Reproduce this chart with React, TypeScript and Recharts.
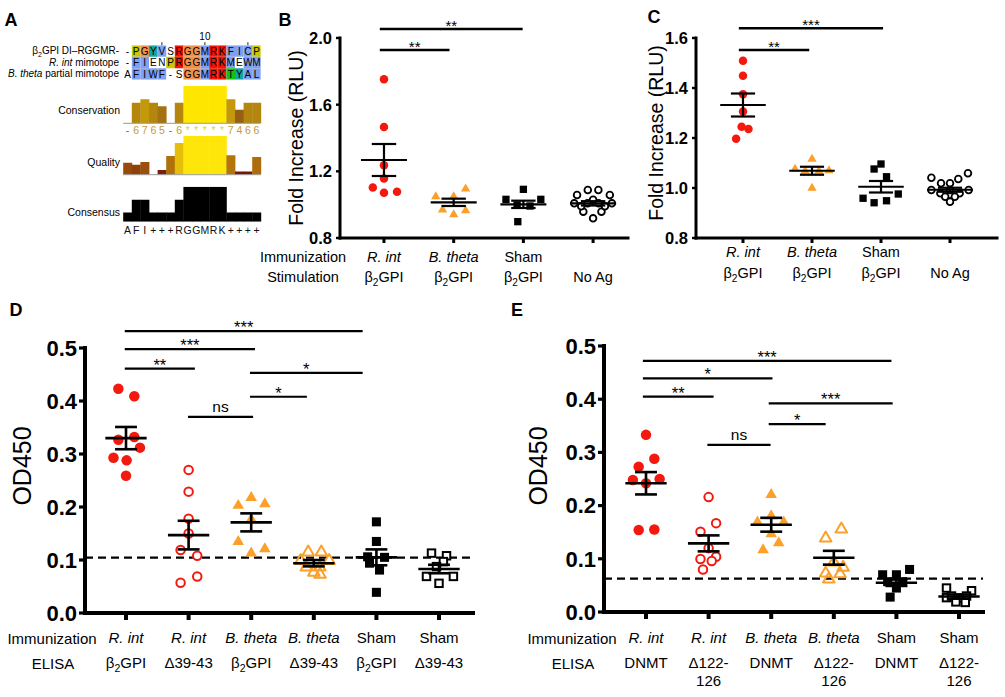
import React from 'react'
import {
  ScatterChart,
  Scatter,
  BarChart,
  Bar,
  Cell,
  XAxis,
  YAxis,
  ReferenceLine,
  ReferenceDot,
} from 'recharts'

// ─────────────────────────────────────────
// Mimotope figure, panels A–E
//   A: alignment + Jalview annotation tracks
//   B/C: luciferase fold increase, dot plots w/ mean ± SEM
//   D/E: ELISA OD450, dot plots w/ mean ± SEM and cut-off
// ─────────────────────────────────────────

const FONT = '"Liberation Sans", Arial, Helvetica, sans-serif'
const RED = '#f3190f'
const ORANGE = '#fca02a'

type Pt = [number, number] // [jitter within group, value]
type Sig = { x1: number; x2: number; y: number; label: string }
type MarkerKind = 'circle' | 'ocircle' | 'tri' | 'otri' | 'square' | 'osquare'

// ── Panel A data ──
const alnLabels = ['β2GPI DI–RGGMR-', 'R. int mimotope', 'B. theta partial mimotope']
const alnRows = ['-PGYVSRGGMRKFICP', '-FIENPRGGMRKMEWM', 'AFIWF-SGGMRKTYAL']
const alnColours = ['.yocb.roobrrbbby', '.bb..yroobrrb.bb', '.bbbb..oobrrgcbb']
const alnRuler = [4, 9, 14]
const conservation = [0, 6, 7, 6, 5, 0, 6, 11, 11, 11, 11, 11, 7, 4, 6, 6]
const conservationSym = ['-', '6', '7', '6', '5', '-', '6', '*', '*', '*', '*', '*', '7', '4', '6', '6']
const quality = [31, 26, 33, 0, 12, 48, 82, 100, 100, 100, 100, 100, 50, 8, 8, 46]
const consensus = [26, 63, 63, 26, 26, 26, 63, 100, 100, 100, 100, 100, 26, 26, 26, 26]
const consensusSeq = ['A', 'F', 'I', '+', '+', '+', 'R', 'G', 'G', 'M', 'R', 'K', '+', '+', '+', '+']

// ── Panel B data ──
const bTicks = [0.8, 1.2, 1.6, 2.0]
const bImmun = ['R. int', 'B. theta', 'Sham', '']
const bStim = ['β2GPI', 'β2GPI', 'β2GPI', 'No Ag']
const bRint: Pt[] = [[0, 1.753], [0, 1.466], [0, 1.237], [0, 1.157], [-0.16, 1.103], [0, 1.071], [0.187, 1.077]]
const bBtheta: Pt[] = [[0.171, 1.098], [-0.257, 1.052], [0, 1.052], [-0.16, 0.972], [0, 0.944], [0.171, 0.968]]
const bSham: Pt[] = [[0, 1.092], [-0.25, 1.032], [0.25, 1.032], [-0.09, 0.998], [0.095, 0.992], [-0.08, 0.898]]
const bNoAg: Pt[] = [
  [-0.076, 1.088], [0.076, 1.088], [-0.23, 1.058], [0.24, 1.058], [-0.27, 1.008], [0.27, 1.008], [-0.14, 0.958],
  [0.12, 0.958], [0, 0.918], [-0.08, 1.008], [0.08, 1.008], [-0.17, 0.99], [0.17, 0.99], [0, 1.03],
]
const bMean = [1.268, 1.014, 1.002, 1.008]
const bSem = [0.096, 0.022, 0.022, 0.013]
const bSig: Sig[] = [
  { x1: -0.06, x2: 0.94, y: 1.928, label: '**' },
  { x1: -0.06, x2: 1.99, y: 2.054, label: '**' },
]

// ── Panel C data ──
const cTicks = [0.8, 1.0, 1.2, 1.4, 1.6]
const cImmun = ['R. int', 'B. theta', 'Sham', '']
const cStim = ['β2GPI', 'β2GPI', 'β2GPI', 'No Ag']
const cRint: Pt[] = [[0, 1.509], [0, 1.449], [0, 1.375], [0, 1.306], [-0.02, 1.245], [0.08, 1.236], [-0.1, 1.197]]
const cBtheta: Pt[] = [[0, 1.118], [-0.246, 1.078], [0.246, 1.072], [-0.1, 1.07], [0.1, 1.07], [0, 1.002]]
const cSham: Pt[] = [[0, 1.096], [-0.1, 1.076], [0.08, 1.045], [-0.26, 0.959], [0.25, 0.976], [-0.1, 0.941], [0.08, 0.949]]
const cNoAg: Pt[] = [
  [-0.27, 1.041], [0.26, 1.059], [0.12, 1.036], [-0.13, 1.019], [0, 1.019], [-0.27, 0.992], [0.27, 0.992],
  [-0.14, 0.979], [0.14, 0.979], [0, 0.972], [-0.07, 0.965], [0.07, 0.965], [0, 0.945], [0, 0.992],
]
const cMean = [1.332, 1.069, 1.005, 0.993]
const cSem = [0.046, 0.016, 0.023, 0.008]
const cSig: Sig[] = [
  { x1: -0.06, x2: 0.96, y: 1.552, label: '**' },
  { x1: -0.06, x2: 2.03, y: 1.639, label: '***' },
]

// ── Panel D data ──
const odTicks = [0, 0.1, 0.2, 0.3, 0.4, 0.5]
const dImmun = ['R. int', 'R. int', 'B. theta', 'B. theta', 'Sham', 'Sham']
const dElisa = ['β2GPI', 'Δ39-43', 'β2GPI', 'Δ39-43', 'β2GPI', 'Δ39-43']
const dRintB: Pt[] = [[-0.122, 0.423], [0.133, 0.409], [-0.122, 0.327], [0.133, 0.332], [0.223, 0.312], [-0.2, 0.293], [0.01, 0.288], [0, 0.259]]
const dRintD: Pt[] = [[0, 0.27], [0, 0.229], [0, 0.178], [0, 0.15], [-0.128, 0.119], [0.138, 0.108], [0.138, 0.069], [-0.128, 0.057]]
const dBthB: Pt[] = [[0, 0.219], [-0.207, 0.204], [0.218, 0.207], [0, 0.178], [-0.207, 0.136], [0.218, 0.122], [0, 0.114]]
const dBthD: Pt[] = [[-0.09, 0.116], [0.12, 0.116], [-0.21, 0.1], [0.245, 0.1], [-0.12, 0.0875], [0.095, 0.0875], [0, 0.078], [0.1, 0.074]]
const dShamB: Pt[] = [[0, 0.172], [0, 0.135], [-0.14, 0.106], [0.13, 0.105], [-0.11, 0.094], [0.05, 0.081], [0, 0.039]]
const dShamD: Pt[] = [[-0.12, 0.113], [0.12, 0.108], [0.07, 0.097], [-0.04, 0.0875], [-0.2, 0.069], [0.23, 0.069], [0, 0.056]]
const dMean = [0.33, 0.147, 0.171, 0.094, 0.105, 0.083]
const dSem = [0.021, 0.027, 0.017, 0.006, 0.015, 0.008]
const dCut = 0.1045
const dSig: Sig[] = [
  { x1: -0.02, x2: 3.78, y: 0.532, label: '***' },
  { x1: -0.02, x2: 2.06, y: 0.498, label: '***' },
  { x1: -0.02, x2: 1.1, y: 0.461, label: '**' },
  { x1: 1.98, x2: 3.78, y: 0.453, label: '*' },
  { x1: 1.98, x2: 2.89, y: 0.408, label: '*' },
  { x1: 0.99, x2: 2.03, y: 0.37, label: 'ns' },
]

// ── Panel E data ──
const eImmun = ['R. int', 'R. int', 'B. theta', 'B. theta', 'Sham', 'Sham']
const eElisa = ['DNMT', 'Δ122-', 'DNMT', 'Δ122-', 'DNMT', 'Δ122-']
const eElisa2 = ['', '126', '', '126', '', '126']
const eRintD: Pt[] = [[0, 0.333], [-0.117, 0.273], [0.133, 0.288], [-0.21, 0.248], [0.218, 0.25], [0, 0.242], [-0.117, 0.154], [0.133, 0.155]]
const eRintX: Pt[] = [[0, 0.216], [0.12, 0.167], [-0.13, 0.151], [0, 0.12], [-0.13, 0.0996], [0.12, 0.104], [0.05, 0.096], [-0.09, 0.08]]
const eBthD: Pt[] = [[0, 0.222], [0, 0.182], [-0.22, 0.17], [0.2, 0.17], [0, 0.148], [0.12, 0.131], [-0.13, 0.118]]
const eBthX: Pt[] = [[0.12, 0.157], [-0.13, 0.14], [0, 0.095], [0.15, 0.085], [-0.13, 0.074], [0.1, 0.073], [-0.08, 0.063]]
const eShamD: Pt[] = [[0.21, 0.08], [-0.22, 0.07], [0, 0.07], [-0.14, 0.057], [0.1, 0.057], [0, 0.045], [-0.1, 0.028]]
const eShamX: Pt[] = [[-0.2, 0.045], [0.2, 0.04], [-0.2, 0.027], [-0.12, 0.03], [0.12, 0.03], [0, 0.026], [-0.05, 0.019], [0.1, 0.018]]
const eMean = [0.242, 0.129, 0.164, 0.102, 0.055, 0.029]
const eSem = [0.021, 0.015, 0.013, 0.013, 0.006, 0.004]
const eCut = 0.0627
const eSig: Sig[] = [
  { x1: -0.05, x2: 3.92, y: 0.472, label: '***' },
  { x1: -0.05, x2: 2.02, y: 0.439, label: '*' },
  { x1: -0.05, x2: 1.08, y: 0.405, label: '**' },
  { x1: 1.96, x2: 3.94, y: 0.392, label: '***' },
  { x1: 1.96, x2: 2.87, y: 0.353, label: '*' },
  { x1: 0.98, x2: 1.99, y: 0.314, label: 'ns' },
]

// ─────────────────────────────────────────
// helpers
// ─────────────────────────────────────────

// β2 subscript + italic species names inside an SVG <text>
function rich(text: string, fs: number) {
  if (text.startsWith('β2')) {
    return [
      <tspan key="a">β</tspan>,
      <tspan key="b" dy={fs * 0.28} fontSize={fs * 0.7}>2</tspan>,
      <tspan key="c" dy={-fs * 0.28}>{text.slice(2)}</tspan>,
    ]
  }
  const m = text.match(/^(R\. int|B\. theta)(.*)$/)
  if (m) return [<tspan key="a" fontStyle="italic">{m[1]}</tspan>, <tspan key="b">{m[2]}</tspan>]
  return text
}

function Txt({ x, y, size, children, anchor = 'middle', bold = false, rotate = false }: any) {
  const tx = anchor === 'middle' ? '-50%' : anchor === 'end' ? '-100%' : '0'
  return (
    <div
      style={{
        position: 'absolute',
        left: x,
        top: y,
        transform: `translate(${tx}, -50%)${rotate ? ' rotate(-90deg)' : ''}`,
        fontSize: size,
        fontWeight: bold ? 700 : 400,
        fontFamily: FONT,
        lineHeight: 1,
        whiteSpace: 'nowrap',
        color: '#000',
      }}
    >
      {children}
    </div>
  )
}

function marker(kind: MarkerKind, color: string, s: number) {
  const sw = Math.max(1.8, s * 0.19)
  return (p: any) => {
    const { cx, cy } = p
    if (cx == null || cy == null) return <g />
    const h = s * 0.95
    const tri = `${cx},${cy - h * 0.6} ${cx - s * 0.55},${cy + h * 0.4} ${cx + s * 0.55},${cy + h * 0.4}`
    switch (kind) {
      case 'circle':
        return <circle cx={cx} cy={cy} r={s / 2} fill={color} />
      case 'ocircle':
        return <circle cx={cx} cy={cy} r={s / 2 - sw / 2} fill="#fff" stroke={color} strokeWidth={sw} />
      case 'tri':
        return <polygon points={tri} fill={color} />
      case 'otri':
        return <polygon points={tri} fill="none" stroke={color} strokeWidth={sw} strokeLinejoin="round" />
      case 'square':
        return <rect x={cx - s * 0.43} y={cy - s * 0.43} width={s * 0.86} height={s * 0.86} fill={color} />
      default:
        return (
          <rect x={cx - s * 0.45 + sw / 2} y={cy - s * 0.45 + sw / 2} width={s * 0.9 - sw} height={s * 0.9 - sw}
            fill="#fff" stroke={color} strokeWidth={sw} />
        )
    }
  }
}

// ─────────────────────────────────────────
// Panel A
// ─────────────────────────────────────────
const A_L = 123.2
const A_R = 260.8
const A_W = A_R + 6
const COL_W = (A_R - A_L) / 16
const ROW_H = 11.5
const RES: Record<string, string> = {
  b: '#80a0f0', r: '#f01505', o: '#f09048', y: '#c8c800', c: '#15a4a4', g: '#15c015',
}

function consColour(v: number) {
  const t = Math.max(0, (v - 4) / 7)
  return `rgb(${Math.round(150 + 105 * t)},${Math.round(95 + 135 * t)},${Math.round(20 - 20 * t)})`
}
function qualColour(v: number) {
  const t = v / 100
  return `rgb(${Math.round(105 + 150 * t)},${Math.round(Math.max(0, 5 + 225 * t))},10)`
}
function symColour(s: string) {
  if (s === '-') return '#a0522d'
  if (s === '*') return '#f2d400'
  return '#c49a3c'
}

function PanelA() {
  const cells = alnRows.flatMap((row, r) =>
    row.split('').map((ch, c) => ({ x: c, y: r, ch, code: alnColours[r][c] })),
  )
  const consData = conservation.map((v, i) => ({ col: i, v }))
  const qualData = quality.map((v, i) => ({ col: i, v }))
  const consensusData = consensus.map((v, i) => ({ col: i, v }))

  const cellShape = (p: any) => {
    const fill = RES[p.payload.code]
    return (
      <g>
        {fill && <rect x={p.cx - COL_W / 2} y={p.cy - ROW_H / 2} width={COL_W} height={ROW_H} fill={fill} />}
        <text x={p.cx} y={p.cy + 3.6} textAnchor="middle" fontSize={10} fontFamily={FONT} fill="#000">
          {p.payload.ch}
        </text>
      </g>
    )
  }
  const rulerTick = (p: any) => {
    const n = p.payload.value + 1
    return n % 10 === 0 ? (
      <text x={p.x} y={p.y - 2} textAnchor="middle" fontSize={10} fontFamily={FONT} fill="#000">{n}</text>
    ) : <g />
  }
  const rowLabelTick = (p: any) => (
    <text x={119} y={p.y + 3.5} textAnchor="end" fontSize={10} fontFamily={FONT} fill="#000" style={{ whiteSpace: 'pre' }}>
      {rich(alnLabels[p.payload.value], 10)}
    </text>
  )
  const symTick = (p: any) => {
    const s = conservationSym[p.payload.value]
    return (
      <text x={p.x} y={p.y + 10.5} textAnchor="middle" fontSize={10.5} fontFamily={FONT} fill={symColour(s)}>{s}</text>
    )
  }
  const seqTick = (p: any) => (
    <text x={p.x} y={p.y + 12} textAnchor="middle" fontSize={10.5} fontFamily={FONT} fill="#111">
      {consensusSeq[p.payload.value]}
    </text>
  )

  return (
    <>
      <div style={{ position: 'absolute', left: 0, top: 0 }}>
        <ScatterChart width={A_W} height={84} margin={{ top: 0, right: A_W - A_R, bottom: 84 - 45.25 - 3 * ROW_H, left: 0 }}>
          <XAxis type="number" dataKey="x" orientation="top" domain={[-0.5, 15.5]} allowDataOverflow ticks={alnRuler}
            interval={0} height={45.25} axisLine={false} tickLine={{ stroke: '#222' }} tickSize={3} tickMargin={0} tick={rulerTick} />
          <YAxis type="number" dataKey="y" domain={[-0.5, 2.5]} reversed allowDataOverflow ticks={[0, 1, 2]} interval={0}
            width={A_L} axisLine={false} tickLine={false} tick={rowLabelTick} />
          <Scatter data={cells} shape={cellShape} isAnimationActive={false} />
        </ScatterChart>
      </div>

      {/* Conservation */}
      <div style={{ position: 'absolute', left: 0, top: 80 }}>
        <BarChart width={A_W} height={56} data={consData} barCategoryGap={0} barGap={0}
          margin={{ top: 5.7, right: A_W - A_R, bottom: 0, left: A_L }}>
          <XAxis dataKey="col" height={56 - 5.7 - 37.6} interval={0} tickSize={0} tickMargin={0}
            axisLine={{ stroke: '#9a9a9a' }} tickLine={false} tick={symTick} />
          <YAxis hide domain={[0, 11]} allowDataOverflow />
          <Bar dataKey="v" isAnimationActive={false}>
            {consData.map((d, i) => <Cell key={i} fill={consColour(d.v)} />)}
          </Bar>
        </BarChart>
      </div>

      {/* Quality */}
      <div style={{ position: 'absolute', left: 0, top: 130 }}>
        <BarChart width={A_W} height={48} data={qualData} barCategoryGap={0} barGap={0}
          margin={{ top: 6, right: A_W - A_R, bottom: 0, left: A_L }}>
          <XAxis dataKey="col" height={48 - 6 - 38.7} interval={0} axisLine={{ stroke: '#9a9a9a' }} tickLine={false} tick={false} />
          <YAxis hide domain={[0, 100]} allowDataOverflow />
          <Bar dataKey="v" isAnimationActive={false}>
            {qualData.map((d, i) => <Cell key={i} fill={qualColour(d.v)} />)}
          </Bar>
        </BarChart>
      </div>

      {/* Consensus */}
      <div style={{ position: 'absolute', left: 0, top: 180 }}>
        <BarChart width={A_W} height={58} data={consensusData} barCategoryGap={0} barGap={0}
          margin={{ top: 6.7, right: A_W - A_R, bottom: 0, left: A_L }}>
          <XAxis dataKey="col" height={58 - 6.7 - 35} interval={0} tickSize={0} tickMargin={0}
            axisLine={false} tickLine={false} tick={seqTick} />
          <YAxis hide domain={[0, 100]} allowDataOverflow />
          <Bar dataKey="v" fill="#000" isAnimationActive={false} />
        </BarChart>
      </div>

      <Txt x={120} y={110} size={10.5} anchor="end">Conservation</Txt>
      <Txt x={120} y={161.7} size={10.5} anchor="end">Quality</Txt>
      <Txt x={120} y={211.7} size={10.5} anchor="end">Consensus</Txt>
    </>
  )
}

// ─────────────────────────────────────────
// Dot plot panels (B–E)
// ─────────────────────────────────────────
interface Group { pts: Pt[]; kind: MarkerKind; color: string }
interface PanelProps {
  box: [number, number, number, number]
  plot: [number, number, number, number]
  xDomain: [number, number]
  yDomain: [number, number]
  yTicks: number[]
  groups: Group[]
  means: number[]
  sems: number[]
  sigs: Sig[]
  cut?: number
  rows: string[][]
  rowDy: number[]
  catFont: number
  tickFont: number
  axisW: number
  tickLen: number
  sigFont: number
  starDy: number
  mSize: number
  lineW: number
  sigW: number
}

function DotPanel(props: PanelProps) {
  const { box, plot, groups, means, sems, sigs, rows, rowDy, catFont, tickFont, axisW, tickLen } = props
  const [L, T, W, H] = box
  const [pl, pt, pr, pb] = plot
  const base = pb - T

  const catTick = (p: any) => {
    const i = Math.round(p.payload.value)
    return (
      <g>
        {rows.map((r, k) =>
          r[i] ? (
            <text key={k} x={p.x} y={base + rowDy[k]} textAnchor="middle" fontSize={catFont} fontFamily={FONT}
              fill="#000" style={{ whiteSpace: 'pre' }}>
              {rich(r[i], catFont)}
            </text>
          ) : null,
        )}
      </g>
    )
  }

  const axisStyle = { stroke: '#000', strokeWidth: axisW, strokeLinecap: 'square' as const }

  const meanLines = means.flatMap((m, i) => {
    const s = sems[i]
    const segs: [number, number, number, number][] = [
      [i - 0.33, m, i + 0.33, m],
      [i, m - s, i, m + s],
      [i - 0.175, m + s, i + 0.175, m + s],
      [i - 0.175, m - s, i + 0.175, m - s],
    ]
    return segs.map(([x1, y1, x2, y2], k) => (
      <ReferenceLine key={`m${i}-${k}`} segment={[{ x: x1, y: y1 }, { x: x2, y: y2 }]}
        stroke="#000" strokeWidth={props.lineW} ifOverflow="visible" zIndex={700} />
    ))
  })

  const sigMarks = sigs.flatMap((s, k) => [
    <ReferenceLine key={`s${k}`} segment={[{ x: s.x1, y: s.y }, { x: s.x2, y: s.y }]}
      stroke="#000" strokeWidth={props.sigW} ifOverflow="visible" zIndex={700} />,
    <ReferenceDot key={`t${k}`} x={(s.x1 + s.x2) / 2} y={s.y} r={0} ifOverflow="visible" zIndex={700}
      shape={(p: any) => (
        <text x={p.cx} y={p.cy + (s.label === 'ns' ? -4.5 : props.starDy)} textAnchor="middle"
          fontSize={s.label === 'ns' ? props.sigFont - 1 : props.sigFont} fontFamily={FONT} fill="#000">
          {s.label}
        </text>
      )} />,
  ])

  return (
    <div style={{ position: 'absolute', left: L, top: T }}>
      <ScatterChart width={W} height={H} margin={{ top: pt - T, right: L + W - pr, bottom: 0, left: 0 }}>
        <XAxis type="number" dataKey="x" domain={props.xDomain} allowDataOverflow ticks={groups.map((_, i) => i)}
          interval={0} height={T + H - pb} tick={catTick} tickSize={tickLen + 1} tickMargin={0}
          axisLine={axisStyle} tickLine={{ stroke: '#000', strokeWidth: axisW }} />
        <YAxis type="number" dataKey="y" domain={props.yDomain} allowDataOverflow ticks={props.yTicks} interval={0}
          width={pl - L} tickFormatter={(v: number) => v.toFixed(1)} tickSize={tickLen} tickMargin={tickLen > 5 ? 2 : 4}
          tick={{ fontSize: tickFont, fontWeight: 700, fill: '#000', fontFamily: FONT }}
          axisLine={axisStyle} tickLine={{ stroke: '#000', strokeWidth: axisW * 0.8 }} />
        {props.cut != null && (
          <ReferenceLine y={props.cut} stroke="#000" strokeWidth={2.4} strokeDasharray="8 5" ifOverflow="visible" />
        )}
        {groups.map((g, i) => (
          <Scatter key={`g${i}`} data={g.pts.map(([dx, v]) => ({ x: i + dx, y: v }))}
            shape={marker(g.kind, g.color, props.mSize)} isAnimationActive={false} />
        ))}
        {meanLines}
        {sigMarks}
      </ScatterChart>
    </div>
  )
}

const bcStyle = { catFont: 14.5, tickFont: 16.5, axisW: 3, tickLen: 4, sigFont: 15, starDy: 1.5, mSize: 8.5, lineW: 2.2, sigW: 2.6 }
const deStyle = { catFont: 15, tickFont: 22, axisW: 4, tickLen: 6, sigFont: 16.5, starDy: 2, mSize: 10.5, lineW: 2.6, sigW: 2.2 }

export default function App() {
  return (
    <div style={{ position: 'absolute', left: 0, top: 0, width: 1005, height: 697, background: '#fff', overflow: 'hidden' }}>
      <PanelA />

      <DotPanel
        {...bcStyle}
        box={[230, 0, 400, 300]}
        plot={[340, 38, 628, 238]}
        xDomain={[-0.631, 3.501]}
        yDomain={[0.8, 2.0]}
        yTicks={bTicks}
        groups={[
          { pts: bRint, kind: 'circle', color: RED },
          { pts: bBtheta, kind: 'tri', color: ORANGE },
          { pts: bSham, kind: 'square', color: '#000' },
          { pts: bNoAg, kind: 'ocircle', color: '#000' },
        ]}
        means={bMean}
        sems={bSem}
        sigs={bSig}
        rows={[bImmun, bStim]}
        rowDy={[24, 44]}
      />

      <DotPanel
        {...bcStyle}
        box={[620, 0, 385, 300]}
        plot={[696, 38, 997, 238]}
        xDomain={[-0.681, 3.681]}
        yDomain={[0.8, 1.6]}
        yTicks={cTicks}
        groups={[
          { pts: cRint, kind: 'circle', color: RED },
          { pts: cBtheta, kind: 'tri', color: ORANGE },
          { pts: cSham, kind: 'square', color: '#000' },
          { pts: cNoAg, kind: 'ocircle', color: '#000' },
        ]}
        means={cMean}
        sems={cSem}
        sigs={cSig}
        rows={[cImmun, cStim]}
        rowDy={[19, 40]}
      />

      <DotPanel
        {...deStyle}
        box={[0, 300, 490, 397]}
        plot={[85, 348, 473, 613]}
        xDomain={[-0.655, 5.543]}
        yDomain={[0, 0.5]}
        yTicks={odTicks}
        groups={[
          { pts: dRintB, kind: 'circle', color: RED },
          { pts: dRintD, kind: 'ocircle', color: RED },
          { pts: dBthB, kind: 'tri', color: ORANGE },
          { pts: dBthD, kind: 'otri', color: ORANGE },
          { pts: dShamB, kind: 'square', color: '#000' },
          { pts: dShamD, kind: 'osquare', color: '#000' },
        ]}
        means={dMean}
        sems={dSem}
        sigs={dSig}
        cut={dCut}
        rows={[dImmun, dElisa]}
        rowDy={[30, 55]}
      />

      <DotPanel
        {...deStyle}
        box={[500, 300, 505, 397]}
        plot={[604, 346, 983, 612]}
        xDomain={[-0.671, 5.383]}
        yDomain={[0, 0.5]}
        yTicks={odTicks}
        groups={[
          { pts: eRintD, kind: 'circle', color: RED },
          { pts: eRintX, kind: 'ocircle', color: RED },
          { pts: eBthD, kind: 'tri', color: ORANGE },
          { pts: eBthX, kind: 'otri', color: ORANGE },
          { pts: eShamD, kind: 'square', color: '#000' },
          { pts: eShamX, kind: 'osquare', color: '#000' },
        ]}
        means={eMean}
        sems={eSem}
        sigs={eSig}
        cut={eCut}
        rows={[eImmun, eElisa, eElisa2]}
        rowDy={[31, 56, 74]}
      />

      {/* axis titles and row headers */}
      <Txt x={297} y={138} size={19.5} rotate>Fold Increase (RLU)</Txt>
      <Txt x={657} y={133} size={19.5} rotate>Fold Increase (RLU)</Txt>
      <Txt x={22} y={466} size={25} rotate>OD450</Txt>
      <Txt x={538} y={466} size={25} rotate>OD450</Txt>

      <Txt x={303} y={257} size={14.5}>Immunization</Txt>
      <Txt x={303} y={277} size={14.5}>Stimulation</Txt>
      <Txt x={52} y={638} size={15}>Immunization</Txt>
      <Txt x={53} y={663} size={15}>ELISA</Txt>
      <Txt x={572} y={638} size={15}>Immunization</Txt>
      <Txt x={573} y={663} size={15}>ELISA</Txt>

      {/* panel letters */}
      <Txt x={11} y={20} size={18} bold>A</Txt>
      <Txt x={285} y={20} size={18} bold>B</Txt>
      <Txt x={654} y={17} size={18} bold>C</Txt>
      <Txt x={16} y={310} size={18} bold>D</Txt>
      <Txt x={517} y={310} size={18} bold>E</Txt>
    </div>
  )
}
